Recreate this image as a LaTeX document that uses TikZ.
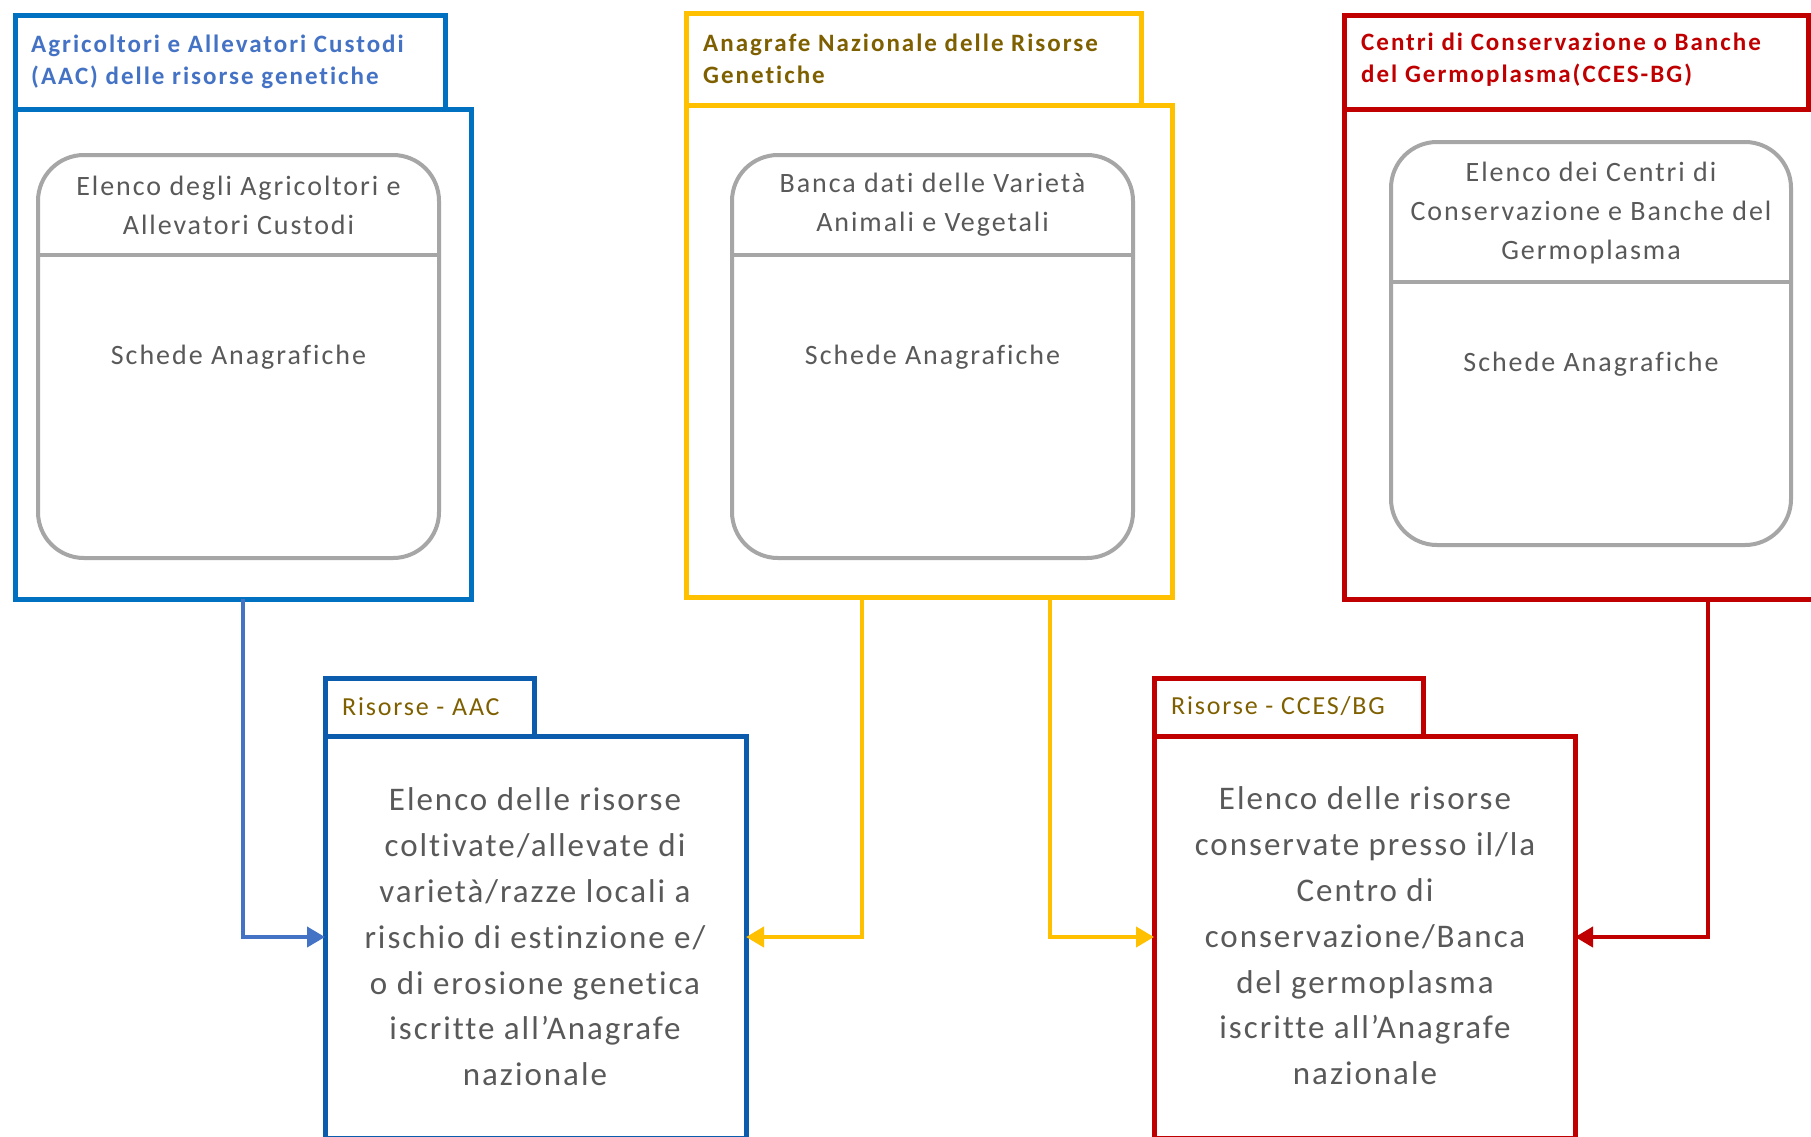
\documentclass[tikz,border=0pt]{standalone}
\usepackage{fontspec}
\setmainfont[Ligatures=NoCommon]{Carlito}
\newfontfamily\ftitle[LetterSpace=8,Ligatures=NoCommon]{Carlito}
\newfontfamily\fhdr[LetterSpace=7,Ligatures=NoCommon]{Carlito}
\newfontfamily\fbig[LetterSpace=6,Ligatures=NoCommon]{Carlito}
\newfontfamily\ftab[LetterSpace=7,Ligatures=NoCommon]{Carlito}
\usetikzlibrary{arrows.meta}
\definecolor{topblue}{HTML}{0070C0}
\definecolor{botblue}{HTML}{0B5CAD}
\definecolor{linkblue}{HTML}{4472C4}
\definecolor{gold}{HTML}{FFC000}
\definecolor{goldtext}{HTML}{7F6000}
\definecolor{darkred}{HTML}{C00000}
\definecolor{innergray}{HTML}{A6A6A6}
\definecolor{txtgray}{HTML}{595959}
\tikzset{
  frame/.style={draw=#1, rectangle, line width=5pt, inner sep=0pt, outer sep=0pt, anchor=north west},
  inbox/.style={draw=innergray, rectangle, line width=4pt, rounded corners=46pt, inner sep=0pt, outer sep=0pt, anchor=north west},
  divline/.style={draw=innergray, line width=4pt},
  title/.style={text=#1, font=\ftitle\fontsize{25}{32}\selectfont\bfseries, align=left, anchor=west, inner sep=0pt},
  hdr/.style={text=txtgray, font=\fhdr\fontsize{28}{39}\selectfont, align=center, inner sep=0pt},
  tablabel/.style={text=goldtext, font=\ftab\fontsize{26}{30}\selectfont, anchor=west, inner sep=0pt},
  bigtext/.style={text=txtgray, font=\fbig\fontsize{33}{45.8}\selectfont, align=center, inner sep=0pt},
  conn/.style={draw=#1, line width=4pt, -{Triangle[length=18pt,width=20pt]}},
}
\begin{document}
\begin{tikzpicture}[x=1pt,y=-1pt]
\useasboundingbox (0,0) rectangle (1811,1136);
\clip (0,0) rectangle (1811,1136);
\fill[white] (0,0) rectangle (1811,1136);

% ---------- Blue (AAC) ----------
\node[frame=topblue, minimum width=456pt, minimum height=490pt] (bmain) at (15,109) {};
\node[frame=topblue, minimum width=430pt, minimum height=94pt] (btab) at (15,15) {};
\node[title=linkblue] (btitle) at (31,62) {Agricoltori e Allevatori Custodi\\(AAC) delle risorse genetiche};
\node[inbox, minimum width=401pt, minimum height=403pt] (binner) at (38,155) {};
\coordinate (bdiv) at (0,255);
\draw[divline] (binner.west |- bdiv) -- (binner.east |- bdiv);
\node[hdr] (bhdr) at (238.5,205) {Elenco degli Agricoltori e\\Allevatori Custodi};
\node[hdr] (bsch) at (238.5,357) {Schede Anagrafiche};

% ---------- Yellow (Anagrafe) ----------
\node[frame=gold, minimum width=486pt, minimum height=492pt] (ymain) at (686,105) {};
\node[frame=gold, minimum width=455pt, minimum height=92pt] (ytab) at (686,13) {};
\node[title=goldtext] (ytitle) at (703,59) {Anagrafe Nazionale delle Risorse\\Genetiche};
\node[inbox, minimum width=401pt, minimum height=403pt] (yinner) at (732,155) {};
\coordinate (ydiv) at (0,255);
\draw[divline] (yinner.west |- ydiv) -- (yinner.east |- ydiv);
\node[hdr] (yhdr) at (932.5,205) {Banca dati delle Varietà\\Animali e Vegetali};
\node[hdr] (ysch) at (932.5,357) {Schede Anagrafiche};

% ---------- Red (CCES-BG) ----------
\node[frame=darkred, minimum width=728pt, minimum height=490pt] (rmain) at (1344,109) {};
\node[frame=darkred, minimum width=464pt, minimum height=94pt] (rtab) at (1344,15) {};
\node[title=darkred] (rtitle) at (1361,60) {Centri di Conservazione o Banche\\del Germoplasma(CCES-BG)};
\node[inbox, minimum width=400pt, minimum height=403pt] (rinner) at (1391,142) {};
\coordinate (rdiv) at (0,282);
\draw[divline] (rinner.west |- rdiv) -- (rinner.east |- rdiv);
\node[hdr] (rhdr) at (1591,213) {Elenco dei Centri di\\Conservazione e Banche del\\Germoplasma};
\node[hdr] (rsch) at (1591,364) {Schede Anagrafiche};

% ---------- Bottom: Risorse - AAC ----------
\node[frame=botblue, minimum width=421pt, minimum height=402pt] (amain) at (325,736) {};
\node[frame=botblue, minimum width=209pt, minimum height=58pt] (atab) at (325,678) {};
\node[tablabel] (alabel) at (342,707) {Risorse - AAC};
\node[bigtext] (atext) at (535,937) {Elenco delle risorse\\coltivate/allevate di\\varietà/razze locali a\\rischio di estinzione e/\\o di erosione genetica\\iscritte all’Anagrafe\\nazionale};

% ---------- Bottom: Risorse - CCES/BG ----------
\node[frame=darkred, minimum width=421pt, minimum height=402pt] (cmain) at (1154,736) {};
\node[frame=darkred, minimum width=269pt, minimum height=58pt] (ctab) at (1154,678) {};
\node[tablabel] (clabel) at (1171,706) {Risorse - CCES/BG};
\node[bigtext] (ctext) at (1365,936) {Elenco delle risorse\\conservate presso il/la\\Centro di\\conservazione/Banca\\del germoplasma\\iscritte all’Anagrafe\\nazionale};

% ---------- Connectors ----------
\draw[conn=linkblue] (bmain.south) |- (amain.west);
\draw[conn=gold] ([xshift=-67pt]ymain.south) |- (amain.east);
\draw[conn=gold] ([xshift=121pt]ymain.south) |- (cmain.west);
\draw[conn=darkred] (rmain.south) |- (cmain.east);
\end{tikzpicture}
\end{document}
